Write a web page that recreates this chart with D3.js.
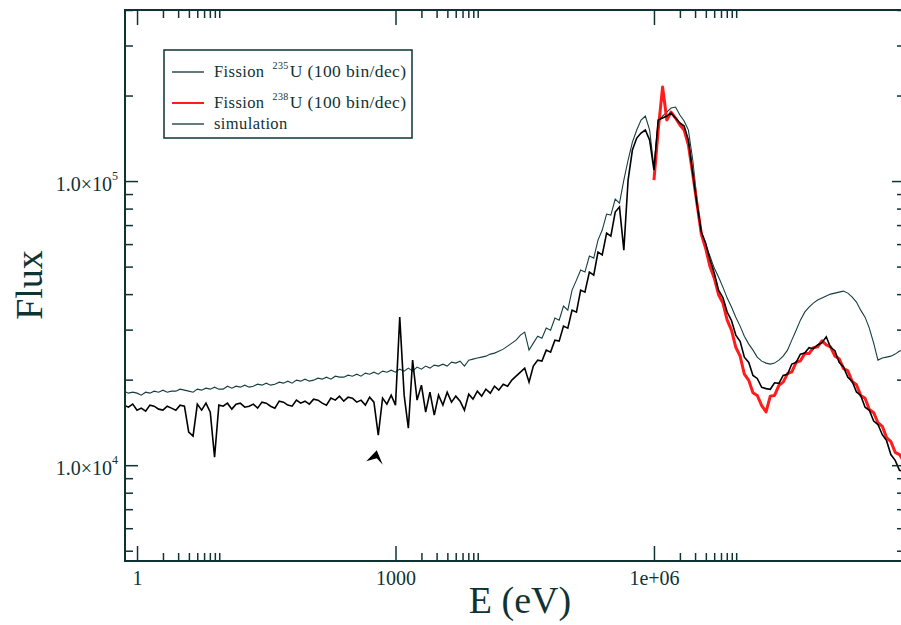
<!DOCTYPE html>
<html><head><meta charset="utf-8">
<script src="https://cdn.jsdelivr.net/npm/d3@7"></script>
<style>
body{margin:0;background:#fff}
svg{display:block}
text{font-family:"Liberation Serif","Times New Roman",serif}
</style>
</head><body>
<svg id="c" width="901" height="625"></svg>
<script>
// ---------- DATA ----------
// energy bins (eV)
const energy = [
 0.708, 0.794, 0.891,
 1, 1.12, 1.26, 1.41, 1.58, 1.78, 2, 2.24, 2.51, 2.82, 3.16, 3.55, 3.98, 4.47, 5.01, 5.62, 6.31, 7.08, 7.94, 8.91,
 10, 11.2, 12.6, 14.1, 15.8, 17.8, 20, 22.4, 25.1, 28.2, 31.6, 35.5, 39.8, 44.7, 50.1, 56.2, 63.1, 70.8, 79.4, 89.1,
 100, 112, 126, 141, 158, 178, 200, 224, 251, 282, 316, 355, 398, 447, 501, 562, 631, 708, 794, 891,
 1e3, 1.12e3, 1.26e3, 1.41e3, 1.58e3, 1.78e3, 2e3, 2.24e3, 2.51e3, 2.82e3, 3.16e3, 3.55e3, 3.98e3, 4.47e3, 5.01e3, 5.62e3, 6.31e3, 7.08e3, 7.94e3, 8.91e3,
 1e4, 1.12e4, 1.26e4, 1.41e4, 1.58e4, 1.78e4, 2e4, 2.24e4, 2.51e4, 2.82e4, 3.16e4, 3.55e4, 3.98e4, 4.47e4, 5.01e4, 5.62e4, 6.31e4, 7.08e4, 7.94e4, 8.91e4,
 1e5, 1.12e5, 1.26e5, 1.41e5, 1.58e5, 1.78e5, 2e5, 2.24e5, 2.51e5, 2.82e5, 3.16e5, 3.55e5, 3.98e5, 4.47e5, 5.01e5, 5.62e5, 6.31e5, 7.08e5, 7.94e5, 8.91e5,
 1e6, 1.12e6, 1.26e6, 1.41e6, 1.58e6, 1.78e6, 2e6, 2.24e6, 2.51e6, 2.82e6, 3.16e6, 3.55e6, 3.98e6, 4.47e6, 5.01e6, 5.62e6, 6.31e6, 7.08e6, 7.94e6, 8.91e6,
 1e7, 1.12e7, 1.26e7, 1.41e7, 1.58e7, 1.78e7, 2e7, 2.24e7, 2.51e7, 2.82e7, 3.16e7, 3.55e7, 3.98e7, 4.47e7, 5.01e7, 5.62e7, 6.31e7, 7.08e7, 7.94e7, 8.91e7,
 1e8, 1.12e8, 1.26e8, 1.41e8, 1.58e8, 1.78e8, 2e8, 2.24e8, 2.51e8, 2.82e8, 3.16e8, 3.55e8, 3.98e8, 4.47e8, 5.01e8, 5.62e8, 6.31e8, 7.08e8, 7.94e8
];

// simulation (upper thin curve)
const fluxSim = [
 18220, 17930, 18070, 17930, 17640, 18070, 17930, 18220, 18070, 18370,
 18070, 18220, 18220, 18520, 18370, 18220, 18070, 18520, 18370, 18670,
 18520, 18820, 18520, 18520, 18970, 18670, 18970, 18820, 19130, 18820,
 18970, 19280, 19130, 19440, 19130, 19280, 19600, 19440, 19760, 19440,
 19920, 19760, 20080, 19760, 19920, 20240, 20080, 20410, 20080, 20570,
 20410, 20410, 20740, 20570, 20910, 20570, 21080, 20910, 21250, 20910,
 21430, 21250, 21600, 21250, 21780, 21430, 21960, 21430, 22140, 21780,
 22320, 21960, 22500, 22320, 22680, 22320, 23050, 22870, 23240, 22320,
 23430, 23620, 23820, 24010, 24200, 24600, 24800, 25200, 25610, 26250,
 26890, 27550, 28680, 29390, 25410, 26890, 28450, 27990, 30370, 29870,
 32930, 32400, 36300, 35130, 41320, 44810, 48600, 47820, 54440, 53560,
 61990, 67220, 76540, 75920, 86440, 83670, 100800, 118600, 137100, 151200,
 164000, 169300, 151200, 111200, 161400, 169300, 174900, 180700, 182200, 170700,
 162700, 151200, 118600, 85730, 66140, 59530, 54440, 49400, 45920, 42340,
 38730, 36010, 33190, 30860, 28450, 26670, 25410, 24010, 23240, 22870,
 22680, 22870, 23430, 24200, 25410, 27550, 29870, 32400, 34560, 36010,
 37190, 38110, 38730, 39360, 40000, 40330, 40660, 40990, 40330, 39040,
 37500, 35130, 33190, 30370, 26890, 23430, 23820, 24010, 24200, 24600,
 25200, 25410
];

// Fission 235U (black, noisy)
const flux235 = [
 16270, 16000, 16400, 15620, 15880, 15490, 16270, 16130, 15750, 15620,
 16130, 15880, 15620, 16270, 16130, 13070, 12650, 16400, 15620, 16530,
 15370, 10680, 16270, 16130, 16530, 15750, 16400, 16530, 16000, 16130,
 16400, 15880, 16670, 16530, 16130, 15880, 16800, 16670, 16270, 16130,
 16940, 16530, 16800, 16400, 17080, 16940, 16530, 16270, 17220, 16940,
 17500, 16800, 17360, 17220, 16670, 16940, 16270, 17360, 16670, 12750,
 17220, 16400, 17640, 16270, 33190, 17640, 13490, 23430, 16940, 19130,
 15370, 18070, 15000, 17640, 16270, 18070, 16670, 17500, 16800, 15620,
 17780, 17080, 18220, 17500, 18520, 17930, 18970, 18370, 19280, 18970,
 19920, 20570, 21250, 21960, 19600, 22320, 23430, 23240, 25410, 25000,
 27550, 27330, 30860, 30370, 35130, 34560, 41320, 40660, 47820, 46670,
 56230, 55000, 65610, 64000, 77790, 81000, 57150, 100800, 128600, 141700,
 147600, 151200, 139400, 109300, 164000, 166600, 169300, 173500, 166600, 160100,
 156200, 139400, 106700, 82990, 66140, 60500, 53000, 47500, 41300, 38900,
 34600, 32300, 28700, 27300, 24000, 23000, 20700, 20200, 18800, 18600,
 18500, 19500, 19400, 20700, 20900, 22700, 23000, 24600, 24800, 25900,
 25700, 26500, 27000, 28300, 26000, 25300, 23000, 22200, 20400, 19700,
 18100, 17600, 16000, 15600, 14300, 13900, 12800, 12200, 10900, 10400,
 9600, 9500
];

// Fission 238U (red), from 1 MeV upward
const energy238 = energy.filter(e => e >= 1e6);
const flux238 = [
 100800, 151200, 214300, 164000, 174900, 166600, 157500, 151200, 133900, 105800,
 82990, 65000, 58000, 50000, 45500, 39800, 37200, 32400, 29900, 26000,
 24200, 20900, 19900, 18000, 17600, 16200, 15400, 17500, 17600, 19100,
 19600, 21000, 21300, 23000, 23300, 24700, 24700, 25900, 26100, 27400,
 26500, 26100, 24200, 23700, 21900, 21500, 19700, 19200, 17600, 17200,
 15700, 15300, 14100, 13700, 12500, 12100, 11100, 10900, 10300
];

// axis ticks
const xMajor = [1, 1000, 1e6];
const xMajorLabels = ["1", "1000", "1e+06"];
const yMajor = [1e4, 1e5];
const yMajorExp = ["4", "5"];
const legendLabels = [["Fission", "235", "U (100 bin/dec)"], ["Fission", "238", "U (100 bin/dec)"], ["simulation", "", ""]];
// arrow annotation point (eV, flux)
const arrowPoint = [606, 11290];

// ---------- STYLE ----------
const ink = "#0f3333";
const colSim = "#163e3e", col235 = "#000000", col238 = "#ff1c1c";
const legendColors = [ink, col238, ink];

// ---------- CHART ----------
const svg = d3.select("#c");
const L = 125, R = 905, T = 10, B = 561;
const x = d3.scaleLog().domain([0.725, 8.2e8]).range([L, R]);
const y = d3.scaleLog().domain([4600, 4e5]).range([B, T]);

svg.append("clipPath").attr("id", "clip").append("rect")
  .attr("x", L).attr("y", T).attr("width", R - L).attr("height", B - T);
const g = svg.append("g").attr("clip-path", "url(#clip)");
const line = d3.line().x(d => x(d[0])).y(d => y(d[1]));

g.append("path").datum(d3.zip(energy, fluxSim)).attr("d", line)
  .attr("fill", "none").attr("stroke", colSim).attr("stroke-width", 1.1);
g.append("path").datum(d3.zip(energy238, flux238)).attr("d", line)
  .attr("fill", "none").attr("stroke", col238).attr("stroke-width", 3).attr("stroke-linejoin", "round");
g.append("path").datum(d3.zip(energy, flux235)).attr("d", line)
  .attr("fill", "none").attr("stroke", col235).attr("stroke-width", 1.6);

// arrow annotation
const ax = x(arrowPoint[0]), ay = y(arrowPoint[1]);
svg.append("path").attr("transform", `translate(${ax},${ay})`)
  .attr("d", "M0,0 L-10.5,11 L0,8 L6,14.5 Z").attr("fill", "#000");

// minor ticks
const xMinor = [];
xMajor.forEach(m => { for (let k = 2; k <= 9; k++) xMinor.push(m * k); });
const yMinor = [];
[1e3, 1e4, 1e5].forEach(m => { for (let k = 2; k <= 9; k++) { const v = m * k; if (v >= 4600 && v <= 4e5) yMinor.push(v); } });

function tidy(sel) {
  sel.select(".domain").remove();
  sel.selectAll("line").attr("stroke", ink).attr("stroke-width", 1.5);
  sel.selectAll("text").attr("fill", ink).style("font-family", '"Liberation Serif","Times New Roman",serif');
}
// bottom
svg.append("g").attr("transform", `translate(0,${B})`)
  .call(d3.axisBottom(x).tickValues(xMajor).tickSize(-15).tickPadding(10).tickFormat((d, i) => xMajorLabels[i]))
  .call(tidy).selectAll("text").attr("font-size", 20);
svg.append("g").attr("transform", `translate(0,${B})`)
  .call(d3.axisBottom(x).tickValues(xMinor).tickSize(-8).tickFormat("")).call(tidy);
// top
svg.append("g").attr("transform", `translate(0,${T})`)
  .call(d3.axisTop(x).tickValues(xMajor).tickSize(-15).tickFormat("")).call(tidy);
svg.append("g").attr("transform", `translate(0,${T})`)
  .call(d3.axisTop(x).tickValues(xMinor).tickSize(-8).tickFormat("")).call(tidy);
// left
const yl = svg.append("g").attr("transform", `translate(${L},0)`)
  .call(d3.axisLeft(y).tickValues(yMajor).tickSize(-13).tickPadding(7).tickFormat(""))
  .call(tidy);
yl.selectAll(".tick").append("text")
  .attr("x", -7).attr("dy", "0.45em").attr("text-anchor", "end").attr("fill", ink).attr("font-size", 20)
  .each(function (d, i) {
    const t = d3.select(this);
    t.append("tspan").text("1.0\u00d710");
    t.append("tspan").attr("font-size", 12).attr("dy", "-0.9em").text(yMajorExp[i]);
  });
svg.append("g").attr("transform", `translate(${L},0)`)
  .call(d3.axisLeft(y).tickValues(yMinor).tickSize(-8).tickFormat("")).call(tidy);
// right
svg.append("g").attr("transform", `translate(${R},0)`)
  .call(d3.axisRight(y).tickValues(yMajor).tickSize(-13).tickFormat("")).call(tidy);
svg.append("g").attr("transform", `translate(${R},0)`)
  .call(d3.axisRight(y).tickValues(yMinor).tickSize(-8).tickFormat("")).call(tidy);

// frame
svg.append("rect").attr("x", L).attr("y", T).attr("width", R - L).attr("height", B - T)
  .attr("fill", "none").attr("stroke", ink).attr("stroke-width", 2);

// axis titles
svg.append("text").attr("x", 520).attr("y", 613).attr("text-anchor", "middle")
  .attr("font-size", 38).attr("fill", ink).text("E (eV)");
svg.append("text").attr("transform", "translate(42,285) rotate(-90)").attr("text-anchor", "middle")
  .attr("font-size", 38).attr("fill", ink).text("Flux");

// legend
const lg = svg.append("g");
lg.append("rect").attr("x", 164).attr("y", 50).attr("width", 248).attr("height", 88)
  .attr("fill", "#fff").attr("stroke", ink).attr("stroke-width", 1.5);
const rowsY = [72, 103, 124];
legendLabels.forEach((lab, i) => {
  lg.append("line").attr("x1", 172).attr("x2", 204).attr("y1", rowsY[i]).attr("y2", rowsY[i])
    .attr("stroke", legendColors[i]).attr("stroke-width", i === 1 ? 2 : 1.3);
  const t = lg.append("text").attr("x", 214).attr("y", rowsY[i] + 5).attr("font-size", 16.5)
    .attr("fill", ink).attr("letter-spacing", 0.4);
  t.append("tspan").text(lab[0]);
  if (lab[1]) {
    t.append("tspan").attr("font-size", 10).attr("dx", 8).attr("dy", -8).text(lab[1]);
    t.append("tspan").attr("font-size", 17.5).attr("dx", 1).attr("dy", 8).text(lab[2]);
  }
});
</script>
</body></html>
